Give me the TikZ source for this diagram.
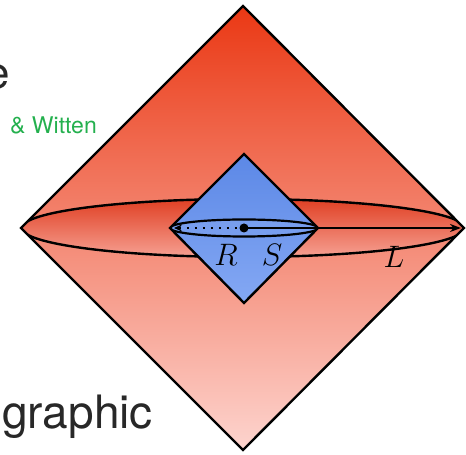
\RequirePackage{fix-cm}
\documentclass[tikz,border=0pt]{standalone}
\usepackage{fontspec}
\setmainfont{TeX Gyre Heros}
\usepackage{tikz}
\usetikzlibrary{arrows.meta}

\definecolor{bulktop}{RGB}{234,56,20}
\definecolor{bulkmid}{RGB}{243,122,100}
\definecolor{bulkbot}{RGB}{253,212,206}
\definecolor{slicetop}{RGB}{224,64,36}
\definecolor{slicemid}{RGB}{255,232,226}
\definecolor{slicebot}{RGB}{246,160,146}
\definecolor{boxtop}{RGB}{92,136,230}
\definecolor{boxbot}{RGB}{132,168,244}
\definecolor{subtop}{RGB}{120,158,238}
\definecolor{submid}{RGB}{196,212,250}
\definecolor{namegreen}{RGB}{36,176,78}
\definecolor{slidegray}{RGB}{40,40,40}

\begin{document}
\begin{tikzpicture}[x=1pt, y=1pt, >=Stealth,
    outline/.style={line width=2.4pt, line join=miter},
    bulk/.style={top color=bulktop, middle color=bulkmid, bottom color=bulkbot},
    slice/.style={top color=slicetop, middle color=slicemid, bottom color=slicebot},
    region/.style={top color=boxtop, bottom color=boxbot},
    subslice/.style={top color=subtop, middle color=submid, bottom color=subtop},
    label/.style={inner sep=0pt, font=\fontsize{31}{31}\selectfont},
    slidetext/.style={inner sep=0pt, anchor=base east}]

    \useasboundingbox (0,0) rectangle (466,455);
    \clip (0,0) rectangle (466,455);

    % Slide text cut off at the left edge
    \node[slidetext, text=slidegray, font=\fontsize{44}{44}\selectfont]
        (titletail) at (10,366) {e};
    \node[slidetext, text=namegreen, font=\fontsize{23}{23}\selectfont]
        (authors) at (97,321) {\& Witten};
    \node[slidetext, text=slidegray, font=\fontsize{46}{46}\selectfont]
        (holo) at (153,26) {ographic};

    % Big causal diamond
    \coordinate (c) at (243,227);
    \coordinate (bigT) at (243,449);
    \coordinate (bigL) at (21,227);
    \coordinate (bigR) at (464,227);
    \coordinate (bigB) at (243,5);
    \shade[bulk] (bigT) -- (bigR) -- (bigB) -- (bigL) -- cycle;

    % Cauchy slice of length L
    \begin{scope}
        \clip (bigT) -- (bigR) -- (bigB) -- (bigL) -- cycle;
        \shade[slice] (c) ellipse (221.5 and 29);
        \draw[outline] (c) ellipse (221.5 and 29);
    \end{scope}
    \draw[outline] (bigT) -- (bigR) -- (bigB) -- (bigL) -- cycle;

    % Small diamond of the region R
    \coordinate (smallT) at (244,301);
    \coordinate (smallL) at (170,227);
    \coordinate (smallR) at (318,227);
    \coordinate (smallB) at (244,152);
    \shade[region] (smallT) -- (smallR) -- (smallB) -- (smallL) -- cycle;
    \begin{scope}
        \clip (smallT) -- (smallR) -- (smallB) -- (smallL) -- cycle;
        \shade[subslice] (244,227) ellipse (74 and 8.5);
        \draw[line width=2.2pt] (244,227) ellipse (74 and 8.5);
    \end{scope}
    \draw[outline] (smallT) -- (smallR) -- (smallB) -- (smallL) -- cycle;

    % Radii
    \coordinate (dot) at (244,227);
    \coordinate (tipL) at (174,227);
    \coordinate (tipR) at (461,227);
    \draw[line width=2.2pt, dash pattern=on 2.5pt off 5.5pt,
        {Stealth[length=8pt, width=7pt, open]}-] (tipL) -- (dot);
    \draw[line width=2pt, -{Stealth[length=11pt, width=8pt]}] (dot) -- (tipR);
    \fill (dot) circle (4.5);

    \node[label] (labR) at (226,200) {$R$};
    \node[label] (labS) at (272,200) {$S$};
    \node[label] (labL) at (394,198) {$L$};

\end{tikzpicture}
\end{document}
